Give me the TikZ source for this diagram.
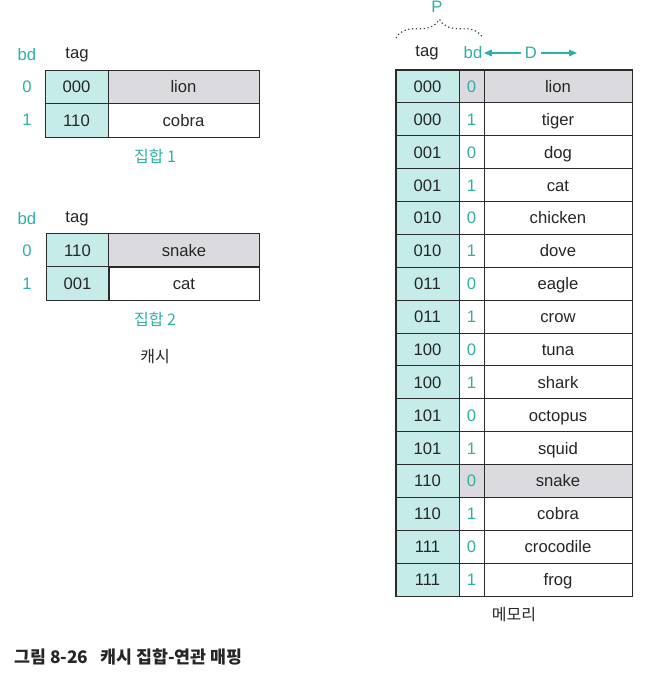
\documentclass[tikz,border=0pt]{standalone}
\usepackage{fontspec}
\setmainfont{Liberation Sans}
\newfontfamily\kr{Noto Sans CJK KR}
\usetikzlibrary{arrows.meta,decorations.pathreplacing}
\definecolor{tealc}{HTML}{2FAFA5}
\definecolor{cyanf}{HTML}{C6ECEA}
\definecolor{grayf}{HTML}{DBDADF}
\definecolor{linec}{HTML}{2B2B2B}
\begin{document}
\begin{tikzpicture}[x=0.75pt,y=-0.75pt,
  cell/.style={draw=linec,line width=0.7pt,inner sep=0,font=\fontsize{12.5}{14}\selectfont,text=black!85,text height=11pt,text depth=2pt},
  ctag/.style={cell,fill=cyanf,minimum width=47.25pt,minimum height=25.1pt},
  cdat/.style={cell,minimum width=113.25pt,minimum height=25.1pt},
  mtag/.style={cell,fill=cyanf,minimum width=47.25pt,minimum height=24.66pt},
  mbd/.style={cell,minimum width=18.75pt,minimum height=24.66pt,text=tealc},
  mdat/.style={cell,minimum width=111pt,minimum height=24.66pt},
  lbl/.style={font=\fontsize{12.5}{14}\selectfont,text=black!85,inner sep=0},
  tlbl/.style={font=\fontsize{12.5}{14}\selectfont,text=tealc,inner sep=0},
  krl/.style={font=\kr\fontsize{12}{14}\selectfont,text=black!85,inner sep=0},
  krt/.style={font=\kr\fontsize{12}{14}\selectfont,text=tealc,inner sep=0}]
\useasboundingbox (0,0) rectangle (658,675);
% cache set 1
\node[tlbl] (bd1) at (27,55) {bd};
\node[lbl] (tag1) at (77,55) {tag};
\node[tlbl] (b10) at (27,87) {0};
\node[tlbl] (b11) at (27,120) {1};
\node[ctag] (t10) at (76.5,86.75) {000};
\node[cdat,fill=grayf] (d10) at (183.5,86.75) {lion};
\node[ctag] (t11) at (76.5,120.25) {110};
\node[cdat] (d11) at (183.5,120.25) {cobra};
\node[krt] (s1) at (155,156) {집합 1};
% cache set 2
\node[tlbl] (bd2) at (27,219) {bd};
\node[lbl] (tag2) at (77,219) {tag};
\node[tlbl] (b20) at (27,251) {0};
\node[tlbl] (b21) at (27,284) {1};
\node[ctag] (t20) at (77.5,250.5) {110};
\node[cdat,fill=grayf] (d20) at (184,250.5) {snake};
\node[ctag] (t21) at (77.5,283.5) {001};
\node[cdat] (d21) at (184,283.5) {cat};
\node[krt] (s2) at (155,319) {집합 2};
\node[krl] (cache) at (155,357) {캐시};
% memory
\node[lbl] (mtaglbl) at (427,53) {tag};
\node[tlbl] (mbdlbl) at (473,53) {bd};
\node[tlbl] (D) at (531,53) {D};
\coordinate (Dend) at (577,53);
\draw[tealc,line width=0.8pt,{Triangle[length=6pt,width=5pt]}-] ([xshift=1pt]mbdlbl.east) -- ([xshift=-3pt]D.west);
\draw[tealc,line width=0.8pt,-{Triangle[length=6pt,width=5pt]}] ([xshift=3pt]D.east) -- (Dend);
\coordinate (brL) at (396,38);
\coordinate (brR) at (483,38);
\draw[black!75,dotted,line width=0.9pt,decorate,decoration={brace,amplitude=14pt}] (brL) -- (brR);
\node[tlbl] (P) at (437,7) {P};
\foreach \i/\t/\b/\d in {0/000/0/lion,1/000/1/tiger,2/001/0/dog,3/001/1/cat,4/010/0/chicken,5/010/1/dove,6/011/0/eagle,7/011/1/crow,8/100/0/tuna,9/100/1/shark,10/101/0/octopus,11/101/1/squid,12/110/0/snake,13/110/1/cobra,14/111/0/crocodile,15/111/1/frog}{
  \pgfmathsetmacro{\yy}{70+32.875*(\i+0.5)}
  \ifnum\i=0 \def\ff{grayf}\else\ifnum\i=12 \def\ff{grayf}\else\def\ff{white}\fi\fi
  \node[mtag] (mt\i) at (427.5,\yy) {\t};
  \node[mbd,fill=\ff] (mb\i) at (471.5,\yy) {\b};
  \node[mdat,fill=\ff] (md\i) at (558,\yy) {\d};
}
\draw[linec,line width=1pt] (mt0.north west) rectangle (md15.south east);
\node[krl] (mem) at (514,615) {메모리};
\node[krl,anchor=west,font=\kr\bfseries\fontsize{13}{15}\selectfont] (cap) at (14,657) {그림 8-26\hspace{0.7em}캐시 집합-연관 매핑};
\end{tikzpicture}
\end{document}
